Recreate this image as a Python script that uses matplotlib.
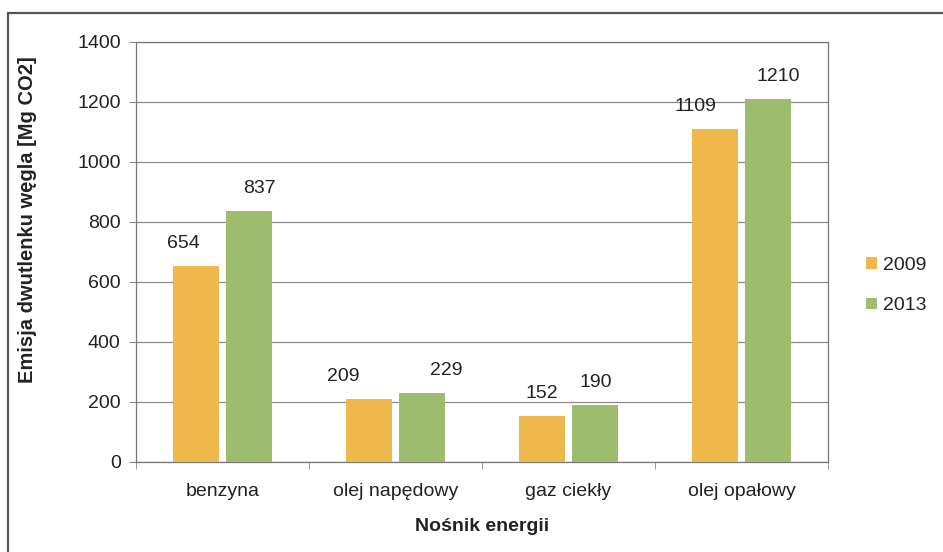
import matplotlib
matplotlib.use("Agg")
import matplotlib.pyplot as plt
from matplotlib.patches import Rectangle
import numpy as np

categories = ["benzyna", "olej napędowy", "gaz ciekły", "olej opałowy"]
series_names = ["2009", "2013"]
values_2009 = [654, 209, 152, 1109]
values_2013 = [837, 229, 190, 1210]
colors = ["#EFB84C", "#9DBC6E"]

# horizontal nudges of the value labels (points), as placed in the original
label_dx_2009 = [-9, -18, 0, -14]
label_dx_2013 = [7, 17, 0, 7]

plt.rcParams['font.family'] = ['Liberation Sans', 'DejaVu Sans']

fig = plt.figure(figsize=(9.43, 5.52), dpi=100)
ax = fig.add_axes([136/943, 1-462/552, (828-136)/943, (462-42)/552])

x = np.arange(len(categories))
w = 0.265
gap = 0.045
for vals, col, name, off, dxs in [(values_2009, colors[0], series_names[0], -(w+gap)/2, label_dx_2009),
                                  (values_2013, colors[1], series_names[1], (w+gap)/2, label_dx_2013)]:
    bars = ax.bar(x + off, vals, width=w, color=col, label=name, zorder=3)
    for b, v, dx in zip(bars, vals, dxs):
        ax.annotate(str(v), (b.get_x() + b.get_width()/2, v), xytext=(dx, 13),
                    textcoords="offset points", ha="center", va="baseline", fontsize=14, color="#222222")

ax.set_xlim(-0.5, len(categories) - 0.5)
ax.set_ylim(0, 1400)
ax.set_yticks(range(0, 1401, 200))
ax.set_xticks(x)
ax.set_xticklabels(categories, fontsize=14)
ax.set_xticks(np.arange(-0.5, len(categories), 1.0), minor=True)
ax.tick_params(axis='x', which='major', length=0, pad=15)
ax.tick_params(axis='x', which='minor', length=5, color="#888888")
ax.tick_params(axis='y', labelsize=14, length=5, color="#888888", pad=6, labelcolor="#222222")
ax.tick_params(axis='x', labelcolor="#222222")
ax.grid(axis='y', color="#8a8a8a", linewidth=0.9, zorder=0)
for s in ax.spines.values():
    s.set_color("#777777")
    s.set_linewidth(0.9)

ax.set_ylabel("Emisja dwutlenku węgla [Mg CO2]", fontsize=14.5, fontweight='bold', color="#222222",
              va='center')
ax.yaxis.set_label_coords((28-136)/692, (462-220)/420)
ax.set_xlabel("Nośnik energii", fontsize=14, fontweight='bold', labelpad=13, color="#222222")

leg = ax.legend(loc='center left', bbox_to_anchor=(1.03, 0.42), frameon=False,
                fontsize=14, handlelength=0.55, handleheight=0.55, handletextpad=0.3,
                labelspacing=1.2)
for t in leg.get_texts():
    t.set_color("#222222")

fig.patches.append(Rectangle((8/943, -0.1), 1.2, 1 - 13/552 + 0.1, transform=fig.transFigure,
                             fill=False, edgecolor="#555555", linewidth=1.6))

fig.savefig("out.png", dpi=100)
